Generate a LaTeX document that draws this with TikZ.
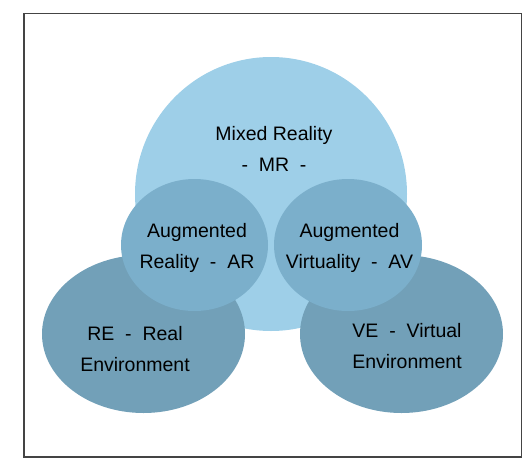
\documentclass[tikz,border=0pt]{standalone}
\usepackage{fontspec}
\setmainfont{Liberation Sans}
\usetikzlibrary{shapes.geometric}
\definecolor{mrcol}{HTML}{9ECFE8}
\definecolor{augcol}{HTML}{7BAFCB}
\definecolor{envcol}{HTML}{72A0B8}
\definecolor{framecol}{HTML}{444444}
\begin{document}
\begin{tikzpicture}[x=1pt,y=-1pt,
  blob/.style={ellipse,draw=none,inner sep=0pt,outer sep=0pt},
  lbl/.style={align=center,inner sep=0pt,text=black,
    font=\fontsize{19.5pt}{31pt}\selectfont}]
\useasboundingbox (0,0) rectangle (525,461);
\draw[framecol,line width=1.3pt] (24,13.5) rectangle (521.5,457);
\node[blob,fill=mrcol,minimum width=272pt,minimum height=274pt] (mr) at (271,194) {};
\node[blob,fill=envcol,minimum width=203pt,minimum height=158pt] (re) at (143.5,334) {};
\node[blob,fill=envcol,minimum width=203pt,minimum height=158pt] (ve) at (401.5,334) {};
\node[blob,fill=augcol,minimum width=147pt,minimum height=132pt] (ar) at (194.5,245) {};
\node[blob,fill=augcol,minimum width=148pt,minimum height=132pt] (av) at (348,245) {};
\node[lbl] (mrt) at (274,148.5) {Mixed Reality\\-\ \ MR\ \ -};
\node[lbl] (art) at (197,248) {Augmented\\Reality\ \ -\ \ AR};
\node[lbl] (avt) at (349.5,248) {Augmented\\Virtuality\ \ -\ \ AV};
\node[lbl] (ret) at (135,349.5) {RE\ \ -\ \ Real\\Environment};
\node[lbl] (vet) at (407,346.5) {VE\ \ -\ \ Virtual\\Environment};
\end{tikzpicture}
\end{document}
